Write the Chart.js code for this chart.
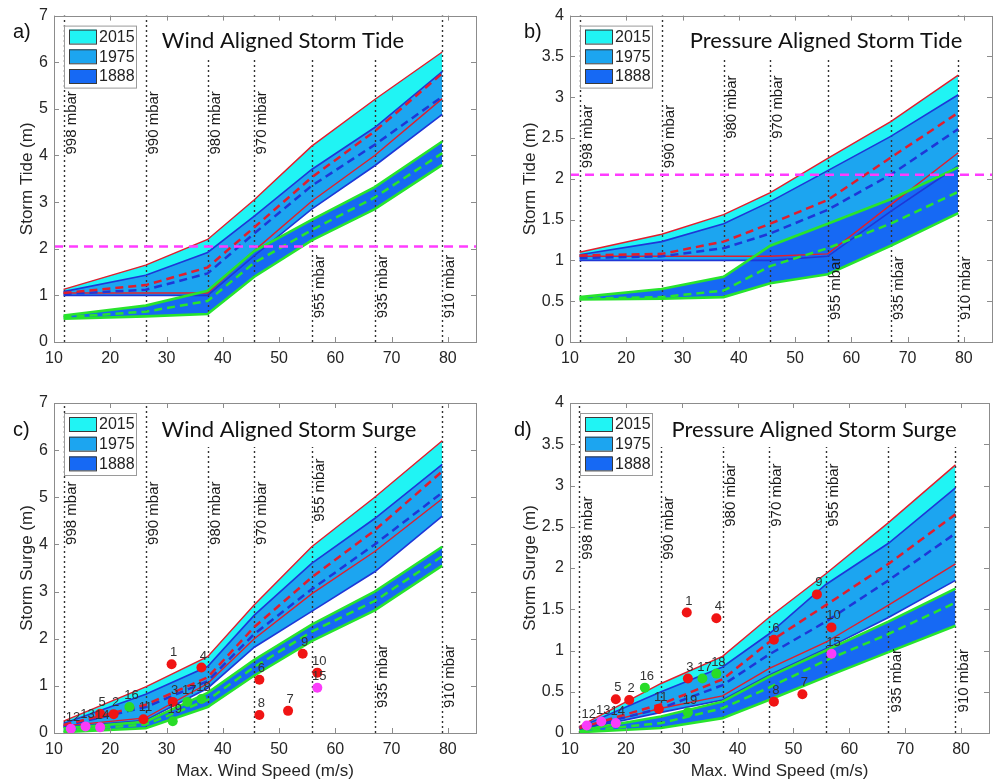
<!DOCTYPE html>
<html>
<head>
<meta charset="utf-8">
<script src="https://cdn.jsdelivr.net/npm/chart.js@4.4.1/dist/chart.umd.min.js"></script>
<style>
    body { margin: 0; background: #fff; width: 994px; height: 784px; position: relative; overflow: hidden; }
    canvas { position: absolute; }
</style>
</head>
<body>
<canvas id="chartA" width="497" height="370" style="left:0;top:0"></canvas>
<canvas id="chartB" width="497" height="370" style="left:497px;top:0"></canvas>
<canvas id="chartC" width="497" height="414" style="left:0;top:370px"></canvas>
<canvas id="chartD" width="497" height="414" style="left:497px;top:370px"></canvas>
<script>
// wind speed of each pressure level (also the vertices of every band)
const mbarWind = [11.7, 26.3, 37.3, 45.6, 55.8, 67.0, 79.0];
const mbarLabels = ['998 mbar', '990 mbar', '980 mbar', '970 mbar', '955 mbar', '935 mbar', '910 mbar'];
const yearLabels = ['2015', '1975', '1888'];
const windTicks = [10, 20, 30, 40, 50, 60, 70, 80];
const ticks7 = [0, 1, 2, 3, 4, 5, 6, 7];
const ticks4 = [0, 0.5, 1, 1.5, 2, 2.5, 3, 3.5, 4];
const tideLevel = 2.05;   // magenta dashed line

// a) wind aligned storm tide
const a2015Hi = [1.13, 1.65, 2.2, 3.05, 4.2, 5.2, 6.22];
const a2015Lo = [1.05, 1.05, 1.05, 1.96, 3.02, 4.0, 5.22];
const a1975Hi = [1.08, 1.43, 1.92, 2.7, 3.7, 4.6, 5.8];
const a1975Lo = [1.0, 1.0, 1.0, 1.85, 2.85, 3.78, 4.88];
const a1888Hi = [0.57, 0.78, 1.1, 1.95, 2.62, 3.32, 4.3];
const a1888Lo = [0.5, 0.55, 0.6, 1.4, 2.18, 2.85, 3.8];
const a2015Mid = [1.05, 1.22, 1.6, 2.46, 3.53, 4.52, 5.76];
const a1975Mid = [1.03, 1.12, 1.47, 2.33, 3.35, 4.23, 5.26];
const a1888Mid = [0.53, 0.65, 0.88, 1.7, 2.4, 3.1, 4.05];

// b) pressure aligned storm tide
const b2015Hi = [1.1, 1.32, 1.56, 1.83, 2.25, 2.7, 3.27];
const b2015Lo = [1.05, 1.05, 1.05, 1.05, 1.08, 1.68, 2.32];
const b1975Hi = [1.07, 1.23, 1.45, 1.72, 2.1, 2.52, 3.03];
const b1975Lo = [1.0, 1.0, 1.0, 1.0, 1.05, 1.6, 2.16];
const b1888Hi = [0.55, 0.65, 0.8, 1.18, 1.45, 1.75, 2.14];
const b1888Lo = [0.52, 0.53, 0.55, 0.72, 0.83, 1.18, 1.58];
const b2015Mid = [1.06, 1.08, 1.23, 1.45, 1.74, 2.26, 2.81];
const b1975Mid = [1.03, 1.05, 1.15, 1.33, 1.62, 2.05, 2.61];
const b1888Mid = [0.53, 0.55, 0.63, 0.93, 1.15, 1.45, 1.84];

// c) wind aligned storm surge
const c2015Hi = [0.25, 0.98, 1.62, 2.72, 3.95, 5.0, 6.2];
const c2015Lo = [0.15, 0.32, 1.05, 2.0, 2.95, 3.85, 4.97];
const c1975Hi = [0.2, 0.82, 1.41, 2.5, 3.6, 4.55, 5.7];
const c1975Lo = [0.12, 0.27, 0.95, 1.82, 2.58, 3.42, 4.6];
const c1888Hi = [0.1, 0.24, 0.85, 1.55, 2.3, 3.0, 3.95];
const c1888Lo = [0.02, 0.1, 0.55, 1.22, 1.95, 2.6, 3.55];
const c2015Mid = [0.17, 0.6, 1.18, 2.25, 3.3, 4.3, 5.55];
const c1975Mid = [0.15, 0.55, 1.1, 2.1, 3.05, 4.0, 5.1];
const c1888Mid = [0.05, 0.18, 0.7, 1.4, 2.15, 2.8, 3.75];

// d) pressure aligned storm surge
const d2015Hi = [0.08, 0.6, 0.93, 1.4, 1.93, 2.55, 3.25];
const d2015Lo = [0.05, 0.3, 0.45, 0.78, 1.1, 1.55, 2.05];
const d1975Hi = [0.07, 0.5, 0.8, 1.2, 1.8, 2.3, 2.97];
const d1975Lo = [0.04, 0.25, 0.4, 0.7, 1.02, 1.4, 1.85];
const d1888Hi = [0.03, 0.2, 0.38, 0.68, 1.0, 1.35, 1.75];
const d1888Lo = [0.01, 0.06, 0.18, 0.4, 0.68, 0.98, 1.3];
const d2015Mid = [0.06, 0.35, 0.65, 1.1, 1.55, 2.05, 2.65];
const d1975Mid = [0.05, 0.3, 0.58, 0.95, 1.35, 1.85, 2.42];
const d1888Mid = [0.02, 0.12, 0.3, 0.55, 0.88, 1.2, 1.58];

// observed storms (same in c and d)
const stormId = ['1', '2', '3', '4', '5', '6', '7', '8', '9', '10', '11', '12', '13', '14', '15', '16', '17', '18', '19'];
const stormWind = [30.9, 20.6, 31.1, 36.2, 18.2, 46.5, 51.6, 46.5, 54.2, 56.8, 25.9, 13.0, 15.6, 18.2, 56.8, 23.4, 33.7, 36.2, 31.1];
const stormSurge = [1.46, 0.40, 0.66, 1.39, 0.41, 1.13, 0.47, 0.38, 1.68, 1.28, 0.29, 0.09, 0.14, 0.12, 0.96, 0.55, 0.66, 0.72, 0.25];
const stormGroup = ['r', 'r', 'r', 'r', 'r', 'r', 'r', 'r', 'r', 'r', 'r', 'm', 'm', 'm', 'm', 'g', 'g', 'g', 'g'];

const FONT = '"Liberation Sans", Arial, sans-serif';
const COL_2015 = 'rgb(32,244,244)';
const COL_1975 = 'rgb(28,165,240)';
const COL_1888 = 'rgb(22,105,244)';
const RED = 'rgb(225,30,45)';
const BLUE = 'rgb(30,55,215)';
const GREEN = 'rgb(40,228,45)';
const MAGENTA = 'rgb(255,60,255)';
const groupColor = {r: 'rgb(240,20,20)', m: 'rgb(250,60,250)', g: 'rgb(40,220,40)'};
const legendColor = [COL_2015, COL_1975, COL_1888];

const xy = ys => mbarWind.map((w, i) => ({x: w, y: ys[i]}));

function bandSets(hi15, lo15, hi75, lo75, hi88, lo88, mid15, mid75, mid88) {
    return [
        {data: xy(hi15), borderColor: RED, borderWidth: 1.4, fill: '+1', backgroundColor: COL_2015, order: 6},
        {data: xy(lo15), borderColor: RED, borderWidth: 1.4, order: 6},
        {data: xy(hi75), borderColor: BLUE, borderWidth: 1.6, fill: '+1', backgroundColor: COL_1975, order: 5},
        {data: xy(lo75), borderColor: BLUE, borderWidth: 1.6, order: 5},
        {data: xy(hi88), borderColor: GREEN, borderWidth: 2.6, fill: '+1', backgroundColor: COL_1888, order: 4},
        {data: xy(lo88), borderColor: GREEN, borderWidth: 2.6, order: 4},
        {data: xy(mid15), borderColor: RED, borderWidth: 2.5, borderDash: [8, 5], order: 3},
        {data: xy(mid75), borderColor: BLUE, borderWidth: 2.5, borderDash: [8, 5], order: 3},
        {data: xy(mid88), borderColor: GREEN, borderWidth: 2.5, borderDash: [8, 5], order: 3}
    ];
}

const tideLine = () => ({
    data: [{x: 10, y: tideLevel}, {x: 85, y: tideLevel}],
    borderColor: MAGENTA, borderWidth: 2.5, borderDash: [9, 6], order: 2
});

const stormPoints = () => ({
    data: stormWind.map((w, i) => ({x: w, y: stormSurge[i]})),
    showLine: false,
    pointRadius: 5,
    pointBorderWidth: 0,
    pointBackgroundColor: stormGroup.map(g => groupColor[g]),
    order: 1
});

// dotted pressure lines, labels, title box, legend, frame
const panelDeco = {
    id: 'panelDeco',
    beforeDatasetsDraw(chart, args, opts) {
        const {ctx, chartArea: ca, scales: {x}} = chart;
        ctx.save();
        ctx.strokeStyle = '#333';
        ctx.lineWidth = 1.4;
        ctx.setLineDash([2, 3]);
        mbarWind.forEach(w => {
            const px = Math.round(x.getPixelForValue(w)) + 0.5;
            ctx.beginPath();
            ctx.moveTo(px, ca.bottom);
            ctx.lineTo(px, ca.top);
            ctx.stroke();
        });
        ctx.restore();
    },
    afterDatasetsDraw(chart, args, opts) {
        const {ctx, chartArea: ca, scales: {x, y}} = chart;
        ctx.save();

        // pressure labels
        ctx.font = '15px ' + FONT;
        ctx.fillStyle = '#1a1a1a';
        ctx.textAlign = 'left';
        ctx.textBaseline = 'middle';
        mbarLabels.forEach((t, i) => {
            ctx.save();
            ctx.translate(x.getPixelForValue(mbarWind[i]) + 8, y.getPixelForValue(opts.mbarBase[i]));
            ctx.rotate(-Math.PI / 2);
            ctx.fillText(t, 0, 0);
            ctx.restore();
        });

        // storm numbers
        if (opts.storms) {
            const meta = chart.getDatasetMeta(9);
            ctx.font = '13px ' + FONT;
            ctx.fillStyle = '#333';
            ctx.textAlign = 'center';
            ctx.textBaseline = 'bottom';
            meta.data.forEach((el, i) => {
                ctx.fillText(stormId[i], el.x + 2, el.y - 5);
            });
        }

        // title with white background
        ctx.fillStyle = '#fff';
        ctx.fillRect(ca.left + opts.box[0], ca.top + 1, opts.box[1] - opts.box[0], 43);
        ctx.font = '22px Lato, "Open Sans", sans-serif';
        ctx.fillStyle = '#111';
        ctx.textAlign = 'center';
        ctx.textBaseline = 'middle';
        ctx.fillText(opts.title, ca.left + opts.titleX, ca.top + opts.titleY);

        // legend
        const lx = ca.left + 10, ly = ca.top + 10;
        ctx.fillStyle = '#fff';
        ctx.fillRect(lx, ly, 72, 62);
        ctx.strokeStyle = '#9a9a9a';
        ctx.lineWidth = 1;
        ctx.strokeRect(lx + 0.5, ly + 0.5, 72, 62);
        ctx.font = '16px ' + FONT;
        ctx.textAlign = 'left';
        yearLabels.forEach((t, i) => {
            const ry = ly + 4 + i * 19.7;
            ctx.fillStyle = legendColor[i];
            ctx.fillRect(lx + 5, ry, 27, 14);
            ctx.strokeStyle = '#3a3a3a';
            ctx.strokeRect(lx + 5.5, ry + 0.5, 27, 14);
            ctx.fillStyle = '#222';
            ctx.fillText(t, lx + 35, ry + 8);
        });

        // frame with inward ticks
        ctx.strokeStyle = '#8c8c8c';
        ctx.lineWidth = 1;
        ctx.strokeRect(Math.round(ca.left) + 0.5, Math.round(ca.top) + 0.5, Math.round(ca.width), Math.round(ca.height));
        ctx.beginPath();
        x.ticks.forEach(t => {
            const px = Math.round(x.getPixelForValue(t.value)) + 0.5;
            ctx.moveTo(px, ca.bottom); ctx.lineTo(px, ca.bottom - 5);
            ctx.moveTo(px, ca.top); ctx.lineTo(px, ca.top + 5);
        });
        y.ticks.forEach(t => {
            const py = Math.round(y.getPixelForValue(t.value)) + 0.5;
            ctx.moveTo(ca.left, py); ctx.lineTo(ca.left + 5, py);
            ctx.moveTo(ca.right, py); ctx.lineTo(ca.right - 5, py);
        });
        ctx.stroke();

        // panel letter
        ctx.font = '20px ' + FONT;
        ctx.fillStyle = '#111';
        ctx.textAlign = 'left';
        ctx.fillText(opts.letter, opts.letterPos[0], opts.letterPos[1]);
        ctx.restore();
    }
};

function makePanel(id, datasets, p) {
    const tickFont = {family: FONT, size: 16};
    const titleFont = {family: FONT, size: 17};
    new Chart(document.getElementById(id), {
        type: 'line',
        data: {datasets: datasets},
        options: {
            responsive: false,
            animation: false,
            layout: {padding: {left: 0, top: p.padTop, right: p.padRight, bottom: 0}},
            elements: {point: {radius: 0}, line: {tension: 0}},
            scales: {
                x: {
                    type: 'linear', min: 10, max: 85,
                    afterBuildTicks: s => { s.ticks = windTicks.map(v => ({value: v})); },
                    afterFit: s => { s.height = p.xHeight; },
                    grid: {display: false, drawTicks: false},
                    border: {display: false},
                    ticks: {padding: 7, color: '#262626', font: tickFont},
                    title: {
                        display: p.xTitle, text: 'Max. Wind Speed (m/s)', color: '#262626',
                        font: titleFont, padding: {top: 0, bottom: 2}
                    }
                },
                y: {
                    type: 'linear', min: 0, max: p.yTicks[p.yTicks.length - 1],
                    afterBuildTicks: s => { s.ticks = p.yTicks.map(v => ({value: v})); },
                    afterFit: s => { s.width = p.yWidth; },
                    grid: {display: false, drawTicks: false},
                    border: {display: false},
                    ticks: {padding: 6, color: '#262626', font: tickFont, callback: v => String(v)},
                    title: {
                        display: true, text: p.yTitle, color: '#262626',
                        font: titleFont, padding: {top: p.yTitlePad, bottom: 0}
                    }
                }
            },
            plugins: {
                legend: {display: false},
                tooltip: {enabled: false},
                filler: {drawTime: 'beforeDatasetsDraw'},
                panelDeco: p.deco
            }
        },
        plugins: [panelDeco]
    });
}

makePanel('chartA',
    bandSets(a2015Hi, a2015Lo, a1975Hi, a1975Lo, a1888Hi, a1888Lo, a2015Mid, a1975Mid, a1888Mid).concat([tideLine()]),
    {padTop: 13, padRight: 21, xHeight: 28, yWidth: 54, yTicks: ticks7, yTitle: 'Storm Tide (m)', yTitlePad: 17, xTitle: false,
     deco: {title: 'Wind Aligned Storm Tide', titleX: 229, titleY: 25, box: [95, 376], letter: 'a)', letterPos: [13, 32],
            mbarBase: [4.02, 4.02, 4.02, 4.02, 0.51, 0.51, 0.51], storms: false}});

makePanel('chartB',
    bandSets(b2015Hi, b2015Lo, b1975Hi, b1975Lo, b1888Hi, b1888Lo, b2015Mid, b1975Mid, b1888Mid).concat([tideLine()]),
    {padTop: 13, padRight: 2, xHeight: 28, yWidth: 73, yTicks: ticks4, yTitle: 'Storm Tide (m)', yTitlePad: 23, xTitle: false,
     deco: {title: 'Pressure Aligned Storm Tide', titleX: 256, titleY: 25, box: [103, 420], letter: 'b)', letterPos: [27, 32],
            mbarBase: [2.13, 2.13, 2.49, 2.49, 0.27, 0.27, 0.27], storms: false}});

makePanel('chartC',
    bandSets(c2015Hi, c2015Lo, c1975Hi, c1975Lo, c1888Hi, c1888Lo, c2015Mid, c1975Mid, c1888Mid).concat([stormPoints()]),
    {padTop: 33, padRight: 21, xHeight: 51, yWidth: 54, yTicks: ticks7, yTitle: 'Storm Surge (m)', yTitlePad: 17, xTitle: true,
     deco: {title: 'Wind Aligned Storm Surge', titleX: 235, titleY: 27, box: [95, 378], letter: 'c)', letterPos: [13, 60],
            mbarBase: [3.99, 3.99, 3.99, 3.99, 4.48, 0.53, 0.53], storms: true}});

makePanel('chartD',
    bandSets(d2015Hi, d2015Lo, d1975Hi, d1975Lo, d1888Hi, d1888Lo, d2015Mid, d1975Mid, d1888Mid).concat([stormPoints()]),
    {padTop: 33, padRight: 2, xHeight: 51, yWidth: 73, yTicks: ticks4, yTitle: 'Storm Surge (m)', yTitlePad: 23, xTitle: true,
     deco: {title: 'Pressure Aligned Storm Surge', titleX: 244, titleY: 27, box: [88, 420], letter: 'd)', letterPos: [17, 60],
            mbarBase: [2.10, 2.10, 2.5, 2.5, 2.5, 0.25, 0.25], storms: true}});
</script>
</body>
</html>
